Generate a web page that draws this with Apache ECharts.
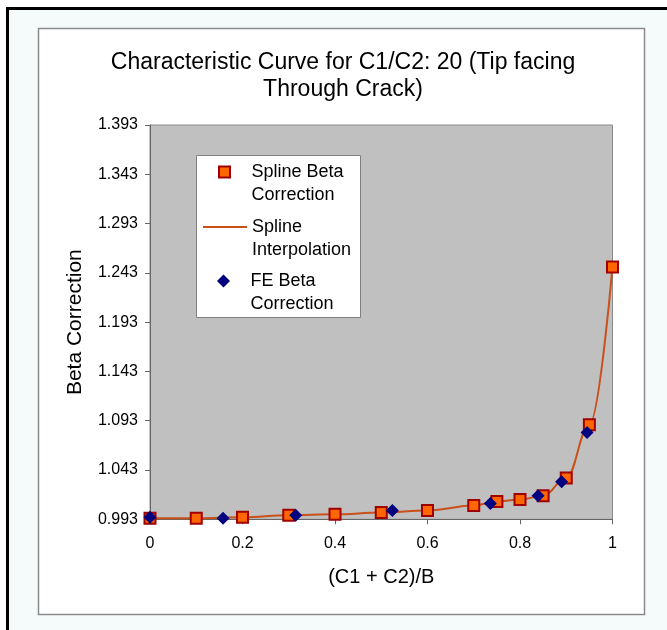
<!DOCTYPE html>
<html><head><meta charset="utf-8">
<script src="https://cdn.jsdelivr.net/npm/echarts@6/dist/echarts.min.js"></script>
<style>html,body{margin:0;padding:0;background:#fff}#c{width:667px;height:630px}</style>
</head><body><div id="c"></div>
<script>
const titleLines = ['Characteristic Curve for C1/C2: 20 (Tip facing', 'Through Crack)'];
const xAxisName = '(C1 + C2)/B';
const yAxisName = 'Beta Correction';
const xTicks = [0, 0.2, 0.4, 0.6, 0.8, 1];
const yTicks = [0.993, 1.043, 1.093, 1.143, 1.193, 1.243, 1.293, 1.343, 1.393];
const splineX = [0, 0.1, 0.2, 0.3, 0.4, 0.5, 0.6, 0.7, 0.75, 0.8, 0.85, 0.9, 0.95, 1.0];
const splineY = [0.994, 0.994, 0.995, 0.997, 0.998, 1.000, 1.002, 1.007, 1.011, 1.013, 1.017, 1.035, 1.089, 1.249];
const feX = [0, 0.158, 0.315, 0.524, 0.736, 0.839, 0.890, 0.945];
const feY = [0.995, 0.994, 0.997, 1.002, 1.009, 1.017, 1.031, 1.081];
const seriesNames = ['Spline Beta Correction', 'Spline Interpolation', 'FE Beta Correction'];
const legendLabels = ['Spline Beta\nCorrection', 'Spline\nInterpolation', 'FE Beta\nCorrection'];

const FONT = 'Liberation Sans, Arial, sans-serif';
const chart = echarts.init(document.getElementById('c'), null, {renderer: 'canvas'});
const legendTops = [137.5, 192.5, 246.5];
const legendLefts = [218, 202, 217];
const legendHeights = [11, 11, 13];
const legendIcons = ['path://M0,0H10V10H0Z', null, 'path://M5,0L10,5L5,10L0,5Z'];

const option = {
  animation: false,
  backgroundColor: '#ffffff',
  graphic: [
    {type: 'rect', z: -20, silent: true, shape: {x: 7.5, y: 8.5, width: 700, height: 700},
     style: {fill: '#f5fbfb', stroke: '#000', lineWidth: 3}},
    {type: 'rect', z: -19, silent: true, shape: {x: 38.5, y: 28.5, width: 606, height: 586},
     style: {fill: '#ffffff', stroke: '#8a8a8a', lineWidth: 1.5}},
    {type: 'rect', z: 3, silent: true, shape: {x: 196.5, y: 155.5, width: 164, height: 162},
     style: {fill: '#ffffff', stroke: '#808080', lineWidth: 1}}
  ],
  title: {
    text: titleLines.join('\n'),
    left: 338, top: 44, textAlign: 'center',
    textStyle: {fontFamily: FONT, fontSize: 23, fontWeight: 'normal', color: '#000', lineHeight: 27}
  },
  legend: seriesNames.map((n, i) => {
    const item = legendIcons[i] ? {name: n, icon: legendIcons[i]} : {name: n};
    const lg = {
      data: [item], orient: 'vertical', left: legendLefts[i], top: legendTops[i], padding: 0,
      itemWidth: 44, itemHeight: legendHeights[i], itemGap: 0, selectedMode: false,
      symbolKeepAspect: true,
      formatter: () => '\n' + legendLabels[i],
      textStyle: {fontFamily: FONT, fontSize: 18, lineHeight: 23, color: '#000'}
    };
    if (i === 1) lg.itemStyle = {opacity: 0};
    return lg;
  }),
  grid: {left: 150, right: 54.5, top: 125, bottom: 110.7, show: true,
         backgroundColor: '#c0c0c0', borderColor: '#8a8a8a', borderWidth: 1,
         outerBoundsMode: 'none', containLabel: false},
  xAxis: {
    type: 'value', min: 0, max: 1,
    name: xAxisName, nameLocation: 'middle', nameGap: 48,
    nameTextStyle: {fontFamily: FONT, fontSize: 20, color: '#000'},
    axisLine: {show: true, onZero: false, lineStyle: {color: '#666', width: 1}},
    axisTick: {show: true, length: 5, customValues: xTicks, lineStyle: {color: '#666'}},
    axisLabel: {customValues: xTicks, margin: 16, fontFamily: FONT, fontSize: 16, color: '#000',
                formatter: v => String(+v.toFixed(1))},
    splitLine: {show: false}
  },
  yAxis: {
    type: 'value', min: 0.993, max: 1.393,
    name: yAxisName, nameLocation: 'middle', nameGap: 64, nameRotate: 90,
    nameTextStyle: {fontFamily: FONT, fontSize: 21, color: '#000'},
    axisLine: {show: true, onZero: false, lineStyle: {color: '#666', width: 1}},
    axisTick: {show: true, length: 5, customValues: yTicks, lineStyle: {color: '#666'}},
    axisLabel: {customValues: yTicks, margin: 12, fontFamily: FONT, fontSize: 16, color: '#000',
                formatter: v => v.toFixed(3)},
    splitLine: {show: false}
  },
  series: [
    {type: 'line', name: seriesNames[1], data: splineX.map((x, i) => [x, splineY[i]]),
     smooth: 0.4, smoothMonotone: 'x', symbol: 'none', z: 2,
     lineStyle: {color: '#c8501a', width: 2}, itemStyle: {color: '#c8501a'}},
    {type: 'scatter', name: seriesNames[0], data: splineX.map((x, i) => [x, splineY[i]]),
     symbol: 'rect', symbolSize: 11, z: 3,
     itemStyle: {color: '#ff6600', borderColor: '#a00000', borderWidth: 2, opacity: 1}},
    {type: 'scatter', name: seriesNames[2], data: feX.map((x, i) => [x, feY[i]]),
     symbol: 'diamond', symbolSize: 13, z: 4,
     itemStyle: {color: '#000080', opacity: 1}}
  ]
};
chart.setOption(option);
</script></body></html>
